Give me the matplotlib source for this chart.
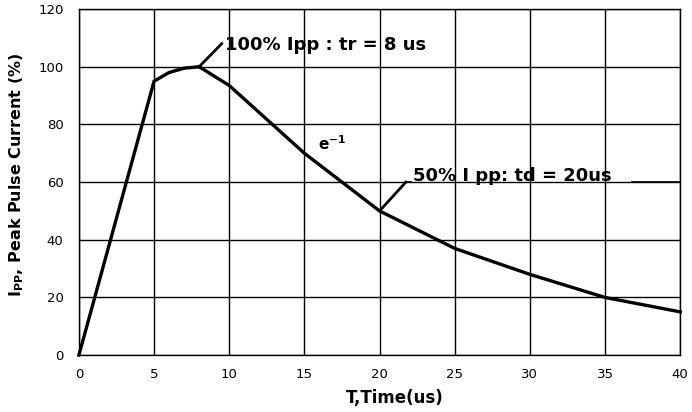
import matplotlib.pyplot as plt
import numpy as np

plt.rcParams['font.family'] = ['DejaVu Sans']
plt.rcParams['mathtext.fontset'] = 'dejavusans'

# pulse waveform (time in us, current in % of Ipp)
time_us = [0, 5, 6, 7, 8, 10, 15, 20, 25, 30, 35, 40]
current_pct = [0, 95, 98, 99.5, 100, 93.5, 70, 50, 37, 28, 20, 15]

x_ticks = [0, 5, 10, 15, 20, 25, 30, 35, 40]
y_ticks = [0, 20, 40, 60, 80, 100, 120]

fig = plt.figure(figsize=(6.92, 4.12), dpi=100)
ax = fig.add_axes([0.114, 0.138, 0.869, 0.840])

ax.set_xlim(0, 40)
ax.set_ylim(0, 120)
ax.set_xticks(x_ticks)
ax.set_yticks(y_ticks)
ax.grid(True, color='black', linewidth=1.0)
ax.set_axisbelow(True)
for s in ax.spines.values():
    s.set_color('black')
    s.set_linewidth(1.0)
ax.tick_params(length=0, labelsize=9.5)
ax.tick_params(axis='x', pad=9)
ax.tick_params(axis='y', pad=11)

ax.plot(time_us, current_pct, color='black', linewidth=2.4, solid_joinstyle='miter', clip_on=False)

# rise-time annotation
ax.plot([8, 9.5], [100, 108], color='black', linewidth=2.0)
ax.text(9.7, 107.5, '100% Ipp : tr = 8 us', fontsize=13, fontweight='bold', va='center', ha='left')

# e^-1 label
ax.text(15.9, 73.5, r'$\mathbf{e^{-1}}$', fontsize=11, va='center')

# decay-time annotation
ax.plot([20, 21.75], [50, 60], color='black', linewidth=2.0)
ax.plot([21.75, 22.1], [60, 60], color='black', linewidth=1.2)
ax.plot([36.8, 40], [60, 60], color='black', linewidth=1.2)
ax.text(22.2, 62, '50% I pp: td = 20us', fontsize=13, fontweight='bold', va='center', ha='left')

ax.set_xlabel('T,Time(us)', fontsize=12, fontweight='bold')
ax.xaxis.set_label_coords(0.525, -0.098)
ax.set_ylabel(r'I$_{\mathbf{PP}}$, Peak Pulse Current (%)', fontsize=11.5, fontweight='bold')
ax.yaxis.set_label_coords(-0.088, 0.52)

fig.savefig('out.png', dpi=100)
